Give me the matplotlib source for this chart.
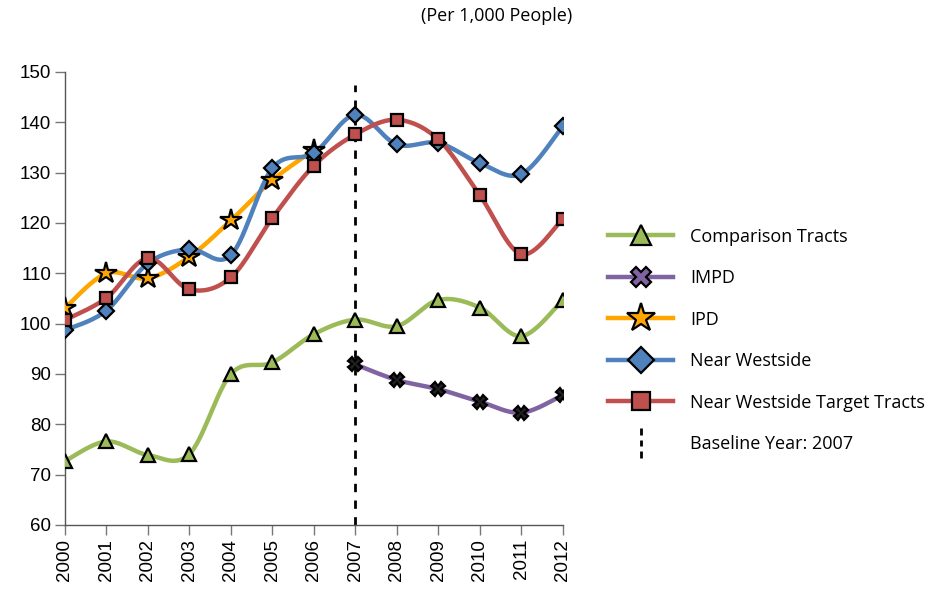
import numpy as np
import matplotlib
matplotlib.use("Agg")
import matplotlib.pyplot as plt
from matplotlib.path import Path
from matplotlib.lines import Line2D

# Datos (por 1,000 personas)
years = list(range(2000, 2013))
comparison = [72.7, 76.6, 73.9, 74.1, 90.0, 92.3, 97.9, 100.8, 99.5, 104.7, 103.2, 97.5, 104.7]
impd_years = list(range(2007, 2013))
impd = [91.9, 88.8, 87.0, 84.5, 82.3, 85.8]
ipd_years = list(range(2000, 2007))
ipd = [103.1, 110.0, 109.0, 113.3, 120.5, 128.5, 134.5]
near_westside = [98.7, 102.6, 112.0, 114.8, 113.6, 130.9, 133.9, 141.5, 135.6, 135.9, 131.9, 129.7, 139.2]
target_tracts = [100.7, 105.1, 113.0, 106.8, 109.2, 121.0, 131.4, 137.6, 140.5, 136.6, 125.5, 113.8, 120.8]
baseline_year = 2007

labels = ["Comparison Tracts", "IMPD", "IPD", "Near Westside", "Near Westside Target Tracts"]
colors = ["#9BBB59", "#8064A2", "#FFA500", "#4F81BD", "#C0504D"]
markers = ["^", "X", "*", "D", "s"]
msizes = [10, 10, 16, 8, 8]


def suavizar(x, y, n=30):
    # curva tipo Excel: Bezier cúbica con puntos de control a 1/6
    x = np.asarray(x, float)
    y = np.asarray(y, float)
    px = np.concatenate([[x[0]], x, [x[-1]]])
    py = np.concatenate([[y[0]], y, [y[-1]]])
    xs, ys = [], []
    t = np.linspace(0, 1, n)
    for i in range(len(x) - 1):
        p0 = np.array([px[i + 1], py[i + 1]])
        p3 = np.array([px[i + 2], py[i + 2]])
        p1 = p0 + (np.array([px[i + 2], py[i + 2]]) - np.array([px[i], py[i]])) / 6
        p2 = p3 - (np.array([px[i + 3], py[i + 3]]) - np.array([px[i + 1], py[i + 1]])) / 6
        b = ((1 - t) ** 3)[:, None] * p0 + (3 * (1 - t) ** 2 * t)[:, None] * p1 \
            + (3 * (1 - t) * t ** 2)[:, None] * p2 + (t ** 3)[:, None] * p3
        xs.append(b[:, 0])
        ys.append(b[:, 1])
    return np.concatenate(xs), np.concatenate(ys)


fig = plt.figure(figsize=(9.5, 5.89), dpi=100)
ax = fig.add_axes([0.0684, 0.1087, 0.524, 0.7691])

# línea del año base
ax.vlines(baseline_year, 60, 147.5, colors="black", linestyles=(0, (3, 3)), lw=2, zorder=1)

series = [(years, comparison), (impd_years, impd), (ipd_years, ipd),
          (years, near_westside), (years, target_tracts)]
handles = []
for (xs, ys), lab, c, m, ms in zip(series, labels, colors, markers, msizes):
    sx, sy = suavizar(xs, ys)
    ax.plot(sx, sy, color=c, lw=3.2, zorder=2, solid_capstyle="round")
    # las X de IMPD se ven negras en el gráfico
    face = "#222222" if m == "X" else c
    ax.plot(xs, ys, ls="none", marker=m, ms=ms, mfc=face, mec="black", mew=1.6, zorder=3)
    handles.append(Line2D([0], [0], color=c, lw=3.2, marker=m, ms=ms + 5,
                          mfc=c, mec="black", mew=1.6))

# marcador de rayas verticales para la leyenda
dash_path = Path([(0, -1), (0, -0.55), (0, -0.2), (0, 0.2), (0, 0.55), (0, 1)],
                 [Path.MOVETO, Path.LINETO, Path.MOVETO, Path.LINETO, Path.MOVETO, Path.LINETO])
handles.append(Line2D([0], [0], ls="none", marker=dash_path, ms=22, mfc="none",
                      mec="black", mew=2))
labels_leg = labels + ["Baseline Year: 2007"]

ax.set_xlim(2000, 2012)
ax.set_ylim(60, 150)
ax.set_xticks(years)
ax.set_xticklabels([str(y) for y in years], rotation=90, fontsize=13.5, family="Liberation Sans")
ax.set_yticks(range(60, 151, 10))
ax.set_yticklabels([str(v) for v in range(60, 151, 10)], fontsize=13.5, family="Liberation Sans")
for s in ["top", "right"]:
    ax.spines[s].set_visible(False)
for s in ["left", "bottom"]:
    ax.spines[s].set_color("#555555")
    ax.spines[s].set_linewidth(1)
ax.tick_params(direction="out", length=7, color="#777777", width=1, pad=3)
ax.margins(0)
for lbl in ax.get_xticklabels() + ax.get_yticklabels():
    lbl.set_clip_on(False)

fig.text(0.523, 0.972, "(Per 1,000 People)", ha="center", va="center",
         fontsize=13, family="Open Sans")

fig.legend(handles, labels_leg, loc="center left", bbox_to_anchor=(0.623, 0.422),
           frameon=False, handlelength=3.6, handletextpad=0.95, labelspacing=1.3,
           prop={"family": "Open Sans", "size": 13})

fig.savefig("out.png", dpi=100)
